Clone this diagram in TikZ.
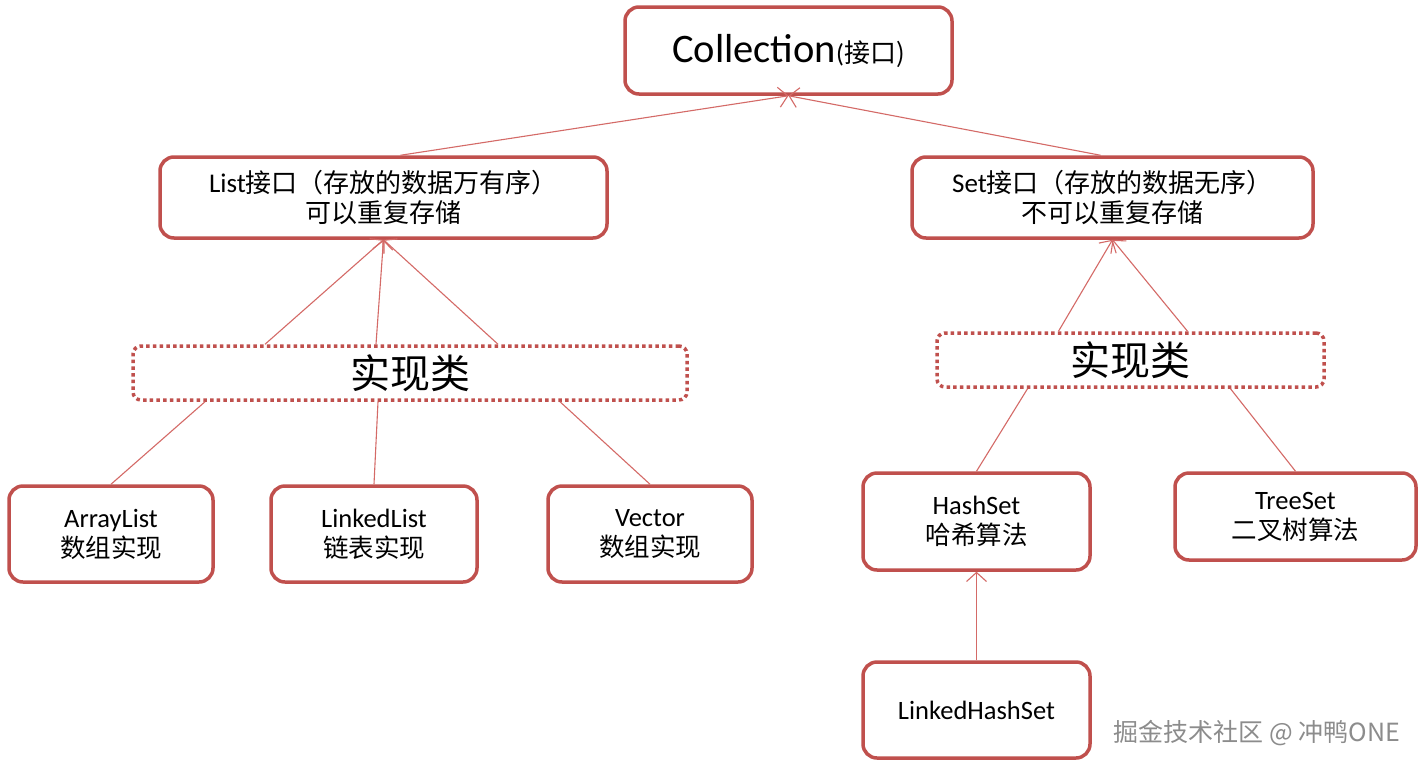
\documentclass[tikz,border=0pt]{standalone}
\usepackage{fontspec}
\setmainfont{Carlito}
\newfontfamily\cjk{Noto Sans CJK SC}
\usetikzlibrary{arrows.meta,calc}
\definecolor{bord}{HTML}{C0504D}
\definecolor{conn}{HTML}{D46A67}
\begin{document}
\begin{tikzpicture}[x=1pt,y=-1pt,
  box/.style={draw=bord,line width=3.5pt,rounded corners=14pt,fill=white,align=center,inner sep=0pt,
    font=\fontsize{26.5}{30}\selectfont},
  dotbox/.style={draw=bord,line width=3.5pt,rounded corners=8pt,dash pattern=on 3.5pt off 3.2pt,
    fill=white,inner sep=0pt,font=\cjk\fontsize{40}{44}\selectfont},
  link/.style={draw=conn,line width=1.1pt},
  arr/.style={link,-{Straight Barb[length=9pt,width=20pt,line width=1.1pt]}}]
\useasboundingbox (0,0) rectangle (1422,769);
\fill[white] (0,0) rectangle (1422,769);

\node[box,minimum width=327pt,minimum height=87pt] (coll) at (788.5,50.5)
  {\fontsize{40.5}{42}\selectfont Collection{\fontsize{26}{28}\selectfont(\cjk 接口)}};
\node[box,minimum width=447pt,minimum height=81pt,font=\fontsize{27}{30}\selectfont] (list) at (383.5,197.5)
  {List{\cjk \fontsize{26}{30}\selectfont 接口（存放的数据万有序）}\\{\cjk \fontsize{26}{30}\selectfont 可以重复存储}};
\node[box,minimum width=401pt,minimum height=81pt,font=\fontsize{27}{30}\selectfont] (set) at (1112.5,197.5)
  {Set{\cjk \fontsize{26}{30}\selectfont 接口（存放的数据无序）}\\{\cjk \fontsize{26}{30}\selectfont 不可以重复存储}};

\node[dotbox,minimum width=554pt,minimum height=54pt] (implL) at (410,373) {实现类};
\node[dotbox,minimum width=387pt,minimum height=54pt] (implR) at (1130.5,360) {实现类};

\node[box,minimum width=204pt,minimum height=96pt] (arr) at (111,534) {ArrayList\\{\cjk \fontsize{25.5}{30}\selectfont 数组实现}};
\node[box,minimum width=206pt,minimum height=96pt] (lnk) at (374,534) {LinkedList\\{\cjk \fontsize{25.5}{30}\selectfont 链表实现}};
\node[box,minimum width=204pt,minimum height=96pt] (vec) at (650,534) {Vector\\{\cjk \fontsize{25.5}{30}\selectfont 数组实现}};
\node[box,minimum width=227pt,minimum height=97pt] (hash) at (976.5,521.5) {HashSet\\{\cjk \fontsize{25.5}{30}\selectfont 哈希算法}};
\node[box,minimum width=241pt,minimum height=87pt] (tree) at (1295.5,516.5) {TreeSet\\{\cjk \fontsize{25.5}{30}\selectfont 二叉树算法}};
\node[box,minimum width=227pt,minimum height=96pt] (lhs) at (976.5,710) {LinkedHashSet};

\draw[arr] ([xshift=17pt]list.north) -- (coll.south);
\draw[arr] ([xshift=-12pt]set.north) -- (coll.south);

\draw[arr] ([xshift=-145pt]implL.north) -- (list.south);
\draw[arr] ([xshift=-34pt]implL.north) -- (list.south);
\draw[arr] ([xshift=88pt]implL.north) -- (list.south);
\draw[arr] ([xshift=-72pt]implR.north) -- (set.south);
\draw[arr] ([xshift=57pt]implR.north) -- (set.south);

\draw[link] ([xshift=-205pt]implL.south) -- (arr.north);
\draw[link] ([xshift=-32pt]implL.south) -- (lnk.north);
\draw[link] ([xshift=150pt]implL.south) -- (vec.north);
\draw[link] ([xshift=-103pt]implR.south) -- (hash.north);
\draw[link] ([xshift=100pt]implR.south) -- (tree.north);

\draw[arr] (lhs.north) -- (hash.south);

\node[font=\cjk\fontsize{25}{27}\selectfont,text=black!45] (wm) at (1257,733) {掘金技术社区 @ 冲鸭ONE};
\end{tikzpicture}
\end{document}
